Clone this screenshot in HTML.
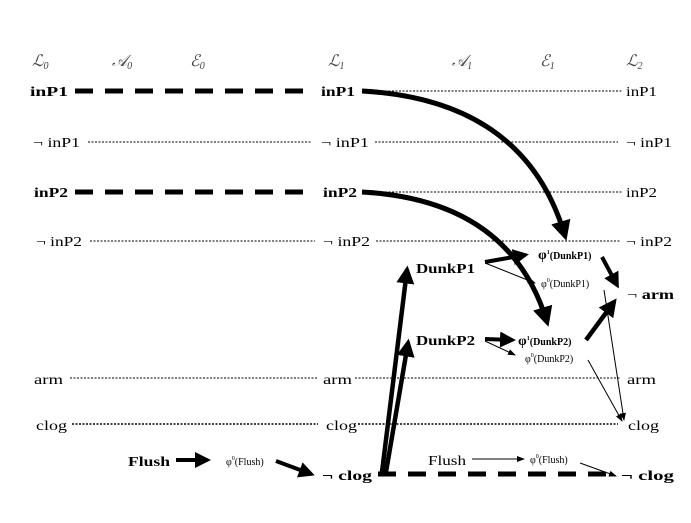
<!DOCTYPE html>
<html><head><meta charset="utf-8"><style>
body{margin:0;background:#fff}
svg text{font-family:"Liberation Serif",serif;fill:#000}
.b{font-weight:bold}
.h{font-style:italic;fill:#444}
</style></head><body>
<svg width="691" height="518" viewBox="0 0 691 518" xmlns="http://www.w3.org/2000/svg" font-size="14">
<defs>
<marker id="a" markerWidth="4" markerHeight="4" refX="3" refY="2" orient="auto" markerUnits="strokeWidth"><path d="M0,0 L4,2 L0,4z"/></marker>
<marker id="t" markerWidth="8" markerHeight="6" refX="7" refY="3" orient="auto" markerUnits="strokeWidth"><path d="M0,0 L8,3 L0,6z"/></marker>
</defs>
<g font-size="16">
<text class="h" x="32" y="66">ℒ<tspan font-size="10" dy="3">0</tspan></text>
<text class="h" x="112" y="66">𝒜<tspan font-size="10" dy="3">0</tspan></text>
<text class="h" x="190" y="66">ℰ<tspan font-size="10" dy="3">0</tspan></text>
<text class="h" x="328" y="66">ℒ<tspan font-size="10" dy="3">1</tspan></text>
<text class="h" x="452" y="66">𝒜<tspan font-size="10" dy="3">1</tspan></text>
<text class="h" x="540" y="66">ℰ<tspan font-size="10" dy="3">1</tspan></text>
<text class="h" x="626" y="66">ℒ<tspan font-size="10" dy="3">2</tspan></text>
</g>
<!-- rows -->
<text class="b" x="30" y="96" textLength="38" lengthAdjust="spacingAndGlyphs">inP1</text>
<line x1="75" y1="91" x2="312" y2="91" stroke="#000" stroke-width="5" stroke-dasharray="18,12"/>
<text class="b" x="321" y="96" textLength="34" lengthAdjust="spacingAndGlyphs">inP1</text>
<line x1="364" y1="91" x2="622" y2="91" stroke="#000" stroke-dasharray="2,1.5"/>
<text x="626" y="96" textLength="31" lengthAdjust="spacingAndGlyphs">inP1</text>

<text x="33" y="147" textLength="47" lengthAdjust="spacingAndGlyphs">¬ inP1</text>
<line x1="88" y1="142" x2="312" y2="142" stroke="#000" stroke-dasharray="2,1.5"/>
<text x="321" y="147" textLength="48" lengthAdjust="spacingAndGlyphs">¬ inP1</text>
<line x1="375" y1="142" x2="618" y2="142" stroke="#000" stroke-dasharray="2,1.5"/>
<text x="626" y="147" textLength="46" lengthAdjust="spacingAndGlyphs">¬ inP1</text>

<text class="b" x="34" y="197" textLength="34" lengthAdjust="spacingAndGlyphs">inP2</text>
<line x1="75" y1="192" x2="312" y2="192" stroke="#000" stroke-width="5" stroke-dasharray="18,12"/>
<text class="b" x="323" y="197" textLength="34" lengthAdjust="spacingAndGlyphs">inP2</text>
<line x1="364" y1="192" x2="622" y2="192" stroke="#000" stroke-dasharray="2,1.5"/>
<text x="626" y="197" textLength="31" lengthAdjust="spacingAndGlyphs">inP2</text>

<text x="36" y="246" textLength="46" lengthAdjust="spacingAndGlyphs">¬ inP2</text>
<line x1="90" y1="241" x2="315" y2="241" stroke="#000" stroke-dasharray="2,1.5"/>
<text x="323" y="246" textLength="47" lengthAdjust="spacingAndGlyphs">¬ inP2</text>
<line x1="376" y1="241" x2="620" y2="241" stroke="#000" stroke-dasharray="2,1.5"/>
<text x="626" y="246" textLength="46" lengthAdjust="spacingAndGlyphs">¬ inP2</text>

<text x="34" y="384" textLength="29" lengthAdjust="spacingAndGlyphs">arm</text>
<line x1="70" y1="378" x2="318" y2="378" stroke="#000" stroke-dasharray="2,1.5"/>
<text x="323" y="384" textLength="29" lengthAdjust="spacingAndGlyphs">arm</text>
<line x1="355" y1="378" x2="620" y2="378" stroke="#000" stroke-dasharray="2,1.5"/>
<text x="627" y="384" textLength="29" lengthAdjust="spacingAndGlyphs">arm</text>

<text x="36" y="430" textLength="31" lengthAdjust="spacingAndGlyphs">clog</text>
<line x1="72" y1="424" x2="318" y2="424" stroke="#000" stroke-width="1.5" stroke-dasharray="2,1.5"/>
<text x="326" y="430" textLength="31" lengthAdjust="spacingAndGlyphs">clog</text>
<line x1="358" y1="424" x2="618" y2="424" stroke="#000" stroke-width="1.5" stroke-dasharray="2,1.5"/>
<text x="628" y="430" textLength="31" lengthAdjust="spacingAndGlyphs">clog</text>

<!-- curves -->
<path d="M362,91 Q525,100 565,236" fill="none" stroke="#000" stroke-width="5" marker-end="url(#a)"/>
<path d="M362,192 Q510,200 547,322" fill="none" stroke="#000" stroke-width="5" marker-end="url(#a)"/>

<text class="b" x="416" y="273" textLength="59" lengthAdjust="spacingAndGlyphs">DunkP1</text>
<text class="b" x="416" y="345" textLength="59" lengthAdjust="spacingAndGlyphs">DunkP2</text>
<text class="b" x="538" y="259" font-size="10"><tspan font-size="14">φ</tspan><tspan dy="-5" font-size="6">1</tspan><tspan dy="5">(DunkP1)</tspan></text>
<text x="541" y="287" font-size="10">φ<tspan dy="-5" font-size="6">0</tspan><tspan dy="5">(DunkP1)</tspan></text>
<text class="b" x="518" y="345" font-size="10"><tspan font-size="14">φ</tspan><tspan dy="-5" font-size="6">1</tspan><tspan dy="5">(DunkP2)</tspan></text>
<text x="525" y="362" font-size="10">φ<tspan dy="-5" font-size="6">0</tspan><tspan dy="5">(DunkP2)</tspan></text>
<text x="627" y="299" textLength="47" lengthAdjust="spacingAndGlyphs">¬ <tspan class="b">arm</tspan></text>

<!-- arrows -->
<line x1="382" y1="472" x2="407" y2="270" stroke="#000" stroke-width="4.5" marker-end="url(#a)"/>
<line x1="386" y1="472" x2="408" y2="343" stroke="#000" stroke-width="4.5" marker-end="url(#a)"/>
<line x1="485" y1="262" x2="525" y2="255" stroke="#000" stroke-width="4" marker-end="url(#a)"/>
<line x1="485" y1="263" x2="535" y2="283" stroke="#000" stroke-width="1" marker-end="url(#t)"/>
<line x1="485" y1="339" x2="512" y2="340" stroke="#000" stroke-width="4" marker-end="url(#a)"/>
<line x1="485" y1="341" x2="515" y2="355" stroke="#000" stroke-width="1" marker-end="url(#t)"/>
<line x1="602" y1="257" x2="617" y2="285" stroke="#000" stroke-width="4" marker-end="url(#a)"/>
<line x1="586" y1="340" x2="614" y2="302" stroke="#000" stroke-width="4.5" marker-end="url(#a)"/>
<line x1="604" y1="290" x2="624" y2="420" stroke="#000" stroke-width="1" marker-end="url(#t)"/>
<line x1="588" y1="360" x2="622" y2="421" stroke="#000" stroke-width="1" marker-end="url(#t)"/>

<!-- bottom -->
<text class="b" x="128" y="466" textLength="42" lengthAdjust="spacingAndGlyphs">Flush</text>
<line x1="176" y1="460" x2="207" y2="460" stroke="#000" stroke-width="4" marker-end="url(#a)"/>
<text x="226" y="465" font-size="10">φ<tspan dy="-5" font-size="6">0</tspan><tspan dy="5">(Flush)</tspan></text>
<line x1="276" y1="461" x2="311" y2="474" stroke="#000" stroke-width="4" marker-end="url(#a)"/>
<text class="b" x="322" y="480" textLength="50" lengthAdjust="spacingAndGlyphs">¬ clog</text>
<line x1="378" y1="474" x2="614" y2="474" stroke="#000" stroke-width="5" stroke-dasharray="18,12"/>
<text x="428" y="465" textLength="38" lengthAdjust="spacingAndGlyphs">Flush</text>
<line x1="472" y1="459" x2="524" y2="459" stroke="#000" stroke-width="1" marker-end="url(#t)"/>
<text x="530" y="463" font-size="10">φ<tspan dy="-5" font-size="6">0</tspan><tspan dy="5">(Flush)</tspan></text>
<line x1="580" y1="463" x2="616" y2="476" stroke="#000" stroke-width="1" marker-end="url(#t)"/>
<text class="b" x="621" y="480" textLength="53" lengthAdjust="spacingAndGlyphs">¬ clog</text>
</svg>
</body></html>
